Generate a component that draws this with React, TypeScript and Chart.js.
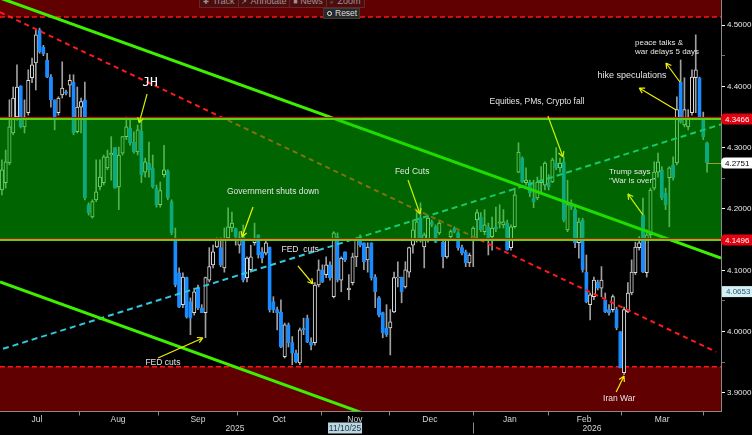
import React, { useEffect, useRef } from "react";
import { Chart, registerables } from "chart.js";

Chart.register(...registerables);

// ---------- DATA (daily candles, Jul 2025 - Mar 2026) ----------
const opens = [
  4.231, 4.243, 4.275, 4.324, 4.350, 4.401, 4.334, 4.357, 4.414, 4.438,
  4.492, 4.464, 4.443, 4.415, 4.378, 4.357, 4.386, 4.391, 4.402, 4.407,
  4.326, 4.366, 4.378, 4.207, 4.187, 4.215, 4.236, 4.243, 4.267, 4.288,
  4.300, 4.236, 4.291, 4.318, 4.332, 4.309, 4.293, 4.327, 4.260, 4.275,
  4.267, 4.234, 4.207, 4.256, 4.262, 4.212, 4.153, 4.096, 4.044, 4.088,
  4.049, 4.031, 4.071, 4.039, 4.031, 4.084, 4.109, 4.138, 4.137, 4.104,
  4.153, 4.169, 4.168, 4.141, 4.155, 4.088, 4.101, 4.145, 4.158, 4.130,
  4.128, 4.138, 4.049, 4.036, 4.032, 3.959, 4.011, 3.982, 3.965, 3.949,
  4.006, 4.022, 3.983, 3.982, 4.076, 4.101, 4.093, 4.109, 4.057, 4.155,
  4.084, 4.130, 4.068, 4.080, 4.122, 4.153, 4.145, 4.117, 4.145, 4.089,
  4.055, 4.031, 4.006, 4.006, 4.032, 4.088, 4.089, 4.073, 4.097, 4.141,
  4.150, 4.185, 4.138, 4.150, 4.179, 4.171, 4.161, 4.146, 4.122, 4.155,
  4.169, 4.161, 4.137, 4.130, 4.112, 4.150, 4.182, 4.187, 4.163, 4.171,
  4.155, 4.171, 4.177, 4.174, 4.177, 4.137, 4.171, 4.260, 4.283, 4.243,
  4.244, 4.218, 4.218, 4.243, 4.239, 4.243, 4.244, 4.275, 4.267, 4.277,
  4.166, 4.207, 4.199, 4.145, 4.182, 4.097, 4.044, 4.057, 4.081, 4.071,
  4.052, 4.036, 4.036, 4.036, 4.000, 3.933, 4.032, 4.063, 4.096, 4.137,
  4.190, 4.096, 4.158, 4.234, 4.260, 4.264, 4.226, 4.251, 4.272, 4.275,
  4.407, 4.337, 4.334, 4.357, 4.414, 4.414, 4.348, 4.308,
];
const highs = [
  4.280, 4.296, 4.378, 4.399, 4.435, 4.401, 4.378, 4.427, 4.446, 4.492,
  4.495, 4.467, 4.454, 4.419, 4.378, 4.383, 4.440, 4.394, 4.419, 4.419,
  4.399, 4.381, 4.407, 4.210, 4.215, 4.280, 4.280, 4.288, 4.296, 4.318,
  4.300, 4.301, 4.318, 4.350, 4.348, 4.326, 4.337, 4.348, 4.283, 4.309,
  4.288, 4.239, 4.244, 4.304, 4.264, 4.215, 4.169, 4.104, 4.096, 4.089,
  4.055, 4.071, 4.076, 4.044, 4.089, 4.137, 4.141, 4.153, 4.153, 4.169,
  4.202, 4.195, 4.169, 4.163, 4.174, 4.122, 4.141, 4.177, 4.158, 4.137,
  4.150, 4.138, 4.057, 4.040, 4.052, 4.014, 4.014, 3.992, 3.970, 4.006,
  4.022, 4.027, 3.990, 4.080, 4.117, 4.109, 4.122, 4.114, 4.163, 4.161,
  4.122, 4.130, 4.093, 4.128, 4.153, 4.158, 4.145, 4.145, 4.145, 4.093,
  4.057, 4.032, 4.044, 4.036, 4.097, 4.114, 4.089, 4.114, 4.138, 4.182,
  4.194, 4.210, 4.161, 4.187, 4.182, 4.174, 4.182, 4.150, 4.150, 4.166,
  4.171, 4.163, 4.141, 4.133, 4.128, 4.171, 4.199, 4.194, 4.199, 4.177,
  4.187, 4.203, 4.207, 4.199, 4.182, 4.174, 4.234, 4.308, 4.285, 4.267,
  4.247, 4.247, 4.252, 4.269, 4.277, 4.256, 4.283, 4.300, 4.283, 4.285,
  4.247, 4.215, 4.203, 4.185, 4.185, 4.125, 4.063, 4.089, 4.084, 4.106,
  4.063, 4.044, 4.060, 4.040, 4.000, 4.040, 4.080, 4.117, 4.146, 4.155,
  4.218, 4.166, 4.234, 4.277, 4.291, 4.269, 4.234, 4.269, 4.285, 4.383,
  4.443, 4.414, 4.362, 4.427, 4.484, 4.415, 4.358, 4.309,
];
const lows = [
  4.223, 4.234, 4.272, 4.321, 4.345, 4.332, 4.324, 4.353, 4.406, 4.394,
  4.454, 4.450, 4.414, 4.366, 4.329, 4.353, 4.381, 4.386, 4.383, 4.321,
  4.324, 4.324, 4.215, 4.190, 4.185, 4.212, 4.231, 4.239, 4.264, 4.247,
  4.234, 4.199, 4.288, 4.313, 4.304, 4.291, 4.288, 4.243, 4.252, 4.252,
  4.234, 4.203, 4.203, 4.252, 4.215, 4.158, 4.073, 4.039, 4.039, 4.022,
  3.995, 4.027, 4.036, 4.031, 3.990, 4.081, 4.104, 4.137, 4.106, 4.097,
  4.150, 4.163, 4.141, 4.128, 4.081, 4.081, 4.097, 4.141, 4.120, 4.112,
  4.125, 4.032, 4.031, 4.003, 3.974, 3.957, 3.975, 3.946, 3.949, 3.946,
  3.995, 3.982, 3.970, 3.978, 4.073, 4.080, 4.088, 4.084, 4.055, 4.081,
  4.065, 4.114, 4.052, 4.076, 4.106, 4.138, 4.101, 4.097, 4.084, 4.039,
  4.024, 3.990, 3.992, 3.962, 4.031, 4.073, 4.047, 4.071, 4.089, 4.128,
  4.146, 4.146, 4.104, 4.146, 4.171, 4.145, 4.158, 4.104, 4.120, 4.150,
  4.161, 4.133, 4.125, 4.106, 4.106, 4.106, 4.150, 4.163, 4.158, 4.125,
  4.133, 4.163, 4.169, 4.169, 4.133, 4.133, 4.169, 4.259, 4.243, 4.239,
  4.220, 4.202, 4.215, 4.226, 4.231, 4.231, 4.243, 4.264, 4.260, 4.179,
  4.163, 4.199, 4.137, 4.120, 4.097, 4.047, 4.019, 4.052, 4.068, 4.057,
  4.031, 4.027, 4.032, 4.003, 3.941, 3.930, 4.031, 4.060, 4.093, 4.133,
  4.096, 4.089, 4.153, 4.231, 4.252, 4.215, 4.199, 4.171, 4.247, 4.272,
  4.340, 4.334, 4.329, 4.353, 4.357, 4.348, 4.313, 4.260,
];
const closes = [
  4.264, 4.277, 4.334, 4.381, 4.399, 4.334, 4.350, 4.410, 4.435, 4.484,
  4.456, 4.453, 4.415, 4.378, 4.345, 4.381, 4.397, 4.389, 4.410, 4.324,
  4.366, 4.375, 4.218, 4.194, 4.212, 4.228, 4.252, 4.285, 4.285, 4.291,
  4.234, 4.288, 4.318, 4.334, 4.308, 4.293, 4.329, 4.256, 4.277, 4.264,
  4.236, 4.207, 4.230, 4.264, 4.218, 4.161, 4.076, 4.040, 4.089, 4.024,
  4.022, 4.065, 4.039, 4.031, 4.088, 4.106, 4.130, 4.150, 4.109, 4.150,
  4.171, 4.177, 4.155, 4.153, 4.084, 4.120, 4.122, 4.150, 4.125, 4.120,
  4.145, 4.036, 4.036, 4.031, 3.975, 4.011, 3.982, 3.965, 3.951, 4.003,
  4.003, 3.983, 3.978, 4.076, 4.101, 4.081, 4.109, 4.088, 4.161, 4.084,
  4.120, 4.117, 4.071, 4.122, 4.150, 4.141, 4.114, 4.138, 4.088, 4.065,
  4.027, 3.998, 3.995, 4.016, 4.088, 4.089, 4.065, 4.101, 4.137, 4.166,
  4.179, 4.150, 4.158, 4.185, 4.174, 4.146, 4.177, 4.122, 4.150, 4.163,
  4.163, 4.137, 4.128, 4.112, 4.125, 4.169, 4.194, 4.166, 4.174, 4.150,
  4.169, 4.168, 4.179, 4.179, 4.133, 4.171, 4.223, 4.293, 4.244, 4.247,
  4.226, 4.212, 4.244, 4.247, 4.275, 4.236, 4.280, 4.267, 4.275, 4.182,
  4.207, 4.203, 4.145, 4.179, 4.101, 4.049, 4.060, 4.084, 4.071, 4.084,
  4.032, 4.031, 4.057, 4.006, 3.941, 4.036, 4.063, 4.097, 4.138, 4.145,
  4.097, 4.158, 4.231, 4.260, 4.277, 4.218, 4.207, 4.267, 4.251, 4.362,
  4.342, 4.362, 4.350, 4.415, 4.427, 4.350, 4.318, 4.2751,
];

// axis labels
const monthLabels = ["Jul", "Aug", "Sep", "Oct", "Nov", "Dec", "Jan", "Feb", "Mar"];
const monthCenters = [9.3, 30.8, 52.0, 73.5, 93.6, 113.5, 134.7, 154.4, 175.1];
const monthStarts = [20.45, 41.4, 62.35, 84.6, 102.7, 124.9, 144.8, 164.2, 185.9];
const yearLabels = ["2025", "2026"];
const yearCenters = [61.8, 156.5];
const yearBreaks = [124.9];
const yTicks = [3.9, 3.95, 4.0, 4.05, 4.1, 4.15, 4.2, 4.25, 4.3, 4.35, 4.4, 4.45, 4.5];
const hoverDate = "11/10/25";
const hoverDateAt = 91.0;

// levels
const zoneHigh = 4.3466;
const zoneLow = 4.1496;
const redTopLevel = 4.5131;
const redBottomLevel = 3.9426;
const lastPrice = 4.2751;
const markerPrice = 4.0653;

// trend lines (index, price)
const upperTrend = [{ x: -0.5, y: 4.544 }, { x: 190.7, y: 4.12 }];
const lowerTrend = [{ x: -0.5, y: 4.081 }, { x: 97.6, y: 3.863 }];
const redTrend = [{ x: -0.5, y: 4.521 }, { x: 189.4, y: 3.967 }];
const cyanTrend = [{ x: 0.3, y: 3.972 }, { x: 190.7, y: 4.338 }];

// annotations (index, price)
const annotationLines = [
  ["JH"],
  ["Government shuts down"],
  ["Fed Cuts"],
  ["FED  cuts"],
  ["FED cuts"],
  ["Equities, PMs, Crypto fall"],
  ["hike speculations"],
  ["peace talks &", "war delays 5 days"],
  ["Trump says", "''War is over''"],
  ["Iran War"],
];
const annotationAt = [
  [39.3, 4.4055], [71.9, 4.2277], [108.8, 4.2604], [79.1, 4.1332], [42.7, 3.9489],
  [141.9, 4.3745], [167.1, 4.4169], [167.9, 4.4707], [161.0, 4.2604], [163.7, 3.8902],
];
const arrowFrom = [
  [38.5, 4.3875], [66.6, 4.2033], [107.7, 4.2473], [78.5, 4.1071], [41.4, 3.957],
  [144.8, 4.3517], [178.8, 4.3615], [179.8, 4.4071], [170.0, 4.1903], [162.9, 3.9017],
];
const arrowTo = [
  [36.4, 4.3403], [63.7, 4.1544], [110.9, 4.1919], [82.5, 4.0777], [53.3, 3.9897],
  [148.8, 4.2848], [169.0, 4.3973], [176.1, 4.4381], [166.0, 4.2245], [165.0, 3.9277],
];

// ---------- STYLE ----------
const X_MIN = -0.5;
const X_MAX = 190.7;
const Y_MIN = 3.8706;
const Y_MAX = 4.5408;
const FONT = '"Liberation Sans", Arial, sans-serif';
const annotationAlign: CanvasTextAlign[] = ["center", "center", "center", "center", "center", "center", "center", "left", "left", "center"];
const annotationFont = [
  '13px "DejaVu Sans Mono", monospace',
  `8.5px ${FONT}`, `8.5px ${FONT}`, `8.5px ${FONT}`, `8.5px ${FONT}`, `8.5px ${FONT}`,
  `9px ${FONT}`, `8px ${FONT}`, `8px ${FONT}`, `8.5px ${FONT}`,
];
const arrowColors = ["#c8f000", "#f0f000", "#c8f000", "#f0f000", "#f0f000", "#c8f000", "#f0f000", "#f0f000", "#c8f000", "#f0f000"];
const toolbarButtons = [
  { icon: "\u271A", label: "Track", w: 38 },
  { icon: "\u2197", label: "Annotate", w: 50 },
  { icon: "\u25A0", label: "News", w: 36 },
  { icon: "\u2315", label: "Zoom", w: 37 },
];

const isMajor = (v: number) => Math.abs(v * 10 - Math.round(v * 10)) < 1e-6;

function drawArrow(ctx: CanvasRenderingContext2D, x1: number, y1: number, x2: number, y2: number, color: string) {
  const ang = Math.atan2(y2 - y1, x2 - x1);
  const len = 6;
  ctx.strokeStyle = color;
  ctx.lineWidth = 1.2;
  ctx.setLineDash([]);
  ctx.beginPath();
  ctx.moveTo(x1, y1);
  ctx.lineTo(x2, y2);
  ctx.moveTo(x2, y2);
  ctx.lineTo(x2 - len * Math.cos(ang - 0.5), y2 - len * Math.sin(ang - 0.5));
  ctx.moveTo(x2, y2);
  ctx.lineTo(x2 - len * Math.cos(ang + 0.5), y2 - len * Math.sin(ang + 0.5));
  ctx.stroke();
}

function priceTag(ctx: CanvasRenderingContext2D, left: number, yp: number, text: string, bg: string, fg: string, rounded: boolean) {
  const h = 11;
  const w = 752 - left;
  ctx.fillStyle = bg;
  ctx.beginPath();
  if (rounded) {
    const r = 4;
    ctx.moveTo(left + r, yp - h / 2);
    ctx.lineTo(left + w, yp - h / 2);
    ctx.lineTo(left + w, yp + h / 2);
    ctx.lineTo(left + r, yp + h / 2);
    ctx.quadraticCurveTo(left, yp + h / 2, left, yp);
    ctx.quadraticCurveTo(left, yp - h / 2, left + r, yp - h / 2);
  } else {
    ctx.rect(left, yp - h / 2, w, h);
  }
  ctx.fill();
  ctx.fillStyle = fg;
  ctx.font = `8px ${FONT}`;
  ctx.textAlign = "left";
  ctx.textBaseline = "middle";
  ctx.fillText(text, left + 4, yp + 0.5);
}

const chartDecor = {
  id: "chartDecor",
  beforeDatasetsDraw(chart: any) {
    const { ctx, chartArea: a, scales } = chart;
    const y = scales.y;
    ctx.save();
    ctx.beginPath();
    ctx.rect(a.left, a.top, a.right - a.left, a.bottom - a.top);
    ctx.clip();
    const yt = y.getPixelForValue(redTopLevel);
    const yb = y.getPixelForValue(redBottomLevel);
    ctx.fillStyle = "#600000";
    ctx.fillRect(a.left, a.top, a.right - a.left, yt - a.top);
    ctx.fillRect(a.left, yb, a.right - a.left, a.bottom - yb);
    ctx.strokeStyle = "#ff1414";
    ctx.lineWidth = 1.5;
    ctx.setLineDash([5, 3]);
    ctx.beginPath();
    ctx.moveTo(a.left, yt);
    ctx.lineTo(a.right, yt);
    ctx.moveTo(a.left, yb);
    ctx.lineTo(a.right, yb);
    ctx.stroke();
    ctx.restore();
  },
  afterDatasetsDraw(chart: any) {
    const { ctx, chartArea: a, scales } = chart;
    const x = scales.x;
    const y = scales.y;
    ctx.save();
    ctx.beginPath();
    ctx.rect(a.left, a.top, a.right - a.left, a.bottom - a.top);
    ctx.clip();
    const zt = y.getPixelForValue(zoneHigh);
    const zb = y.getPixelForValue(zoneLow);
    ctx.fillStyle = "rgba(0,200,0,0.5)";
    ctx.fillRect(a.left, zt, a.right - a.left, zb - zt);
    ctx.setLineDash([]);
    for (const yy of [zt, zb]) {
      ctx.strokeStyle = "#c81010";
      ctx.lineWidth = 1;
      ctx.beginPath();
      ctx.moveTo(a.left, Math.round(yy) - 1.5);
      ctx.lineTo(a.right, Math.round(yy) - 1.5);
      ctx.stroke();
      ctx.strokeStyle = "#5cd214";
      ctx.lineWidth = 2;
      ctx.beginPath();
      ctx.moveTo(a.left, Math.round(yy));
      ctx.lineTo(a.right, Math.round(yy));
      ctx.stroke();
    }
    // last price line
    const ly = Math.round(y.getPixelForValue(lastPrice)) + 0.5;
    ctx.strokeStyle = "#a0a020";
    ctx.lineWidth = 1;
    ctx.beginPath();
    ctx.moveTo(x.getPixelForValue(closes.length - 1), ly);
    ctx.lineTo(a.right, ly);
    ctx.stroke();
    // annotations
    annotationLines.forEach((lines, i) => {
      const fx = x.getPixelForValue(arrowFrom[i][0]);
      const fy = y.getPixelForValue(arrowFrom[i][1]);
      const tx = x.getPixelForValue(arrowTo[i][0]);
      const ty = y.getPixelForValue(arrowTo[i][1]);
      drawArrow(ctx, fx, fy, tx, ty, arrowColors[i]);
      const px = x.getPixelForValue(annotationAt[i][0]);
      const py = y.getPixelForValue(annotationAt[i][1]);
      ctx.font = annotationFont[i];
      ctx.fillStyle = i === 0 ? "#ffffff" : "#e4e4e4";
      ctx.textAlign = annotationAlign[i];
      ctx.textBaseline = "middle";
      lines.forEach((t, k) => ctx.fillText(t, px, py + k * 8.5));
    });
    ctx.restore();
  },
  afterDraw(chart: any) {
    const { ctx, chartArea: a, scales } = chart;
    const x = scales.x;
    const y = scales.y;
    ctx.save();
    // x axis
    const b = Math.round(a.bottom) + 0.5;
    ctx.strokeStyle = "#8a8a8a";
    ctx.lineWidth = 1;
    ctx.setLineDash([]);
    ctx.beginPath();
    ctx.moveTo(0, b);
    ctx.lineTo(a.right + 1, b);
    monthStarts.forEach((v) => {
      const px = Math.round(x.getPixelForValue(v)) + 0.5;
      ctx.moveTo(px, b);
      ctx.lineTo(px, b + 4);
    });
    yearBreaks.forEach((v) => {
      const px = Math.round(x.getPixelForValue(v)) + 0.5;
      ctx.moveTo(px, b + 11);
      ctx.lineTo(px, b + 22);
    });
    ctx.stroke();
    ctx.fillStyle = "#d6d6d6";
    ctx.font = `8.5px ${FONT}`;
    ctx.textAlign = "center";
    ctx.textBaseline = "middle";
    monthLabels.forEach((m, i) => ctx.fillText(m, x.getPixelForValue(monthCenters[i]), b + 8.5));
    yearLabels.forEach((m, i) => ctx.fillText(m, x.getPixelForValue(yearCenters[i]), b + 17.5));
    // hover date box
    const hx = x.getPixelForValue(hoverDateAt);
    ctx.fillStyle = "#bcd6e2";
    ctx.fillRect(hx - 17, b + 11, 34, 11);
    ctx.fillStyle = "#1c3448";
    ctx.fillText(hoverDate, hx, b + 17);
    // price tags
    const left = Math.round(a.right);
    priceTag(ctx, left, y.getPixelForValue(zoneHigh), zoneHigh.toFixed(4), "#e40010", "#ffffff", true);
    priceTag(ctx, left, y.getPixelForValue(zoneLow), zoneLow.toFixed(4), "#e40010", "#ffffff", true);
    priceTag(ctx, left, y.getPixelForValue(lastPrice), lastPrice.toFixed(4), "#ffffff", "#000000", true);
    priceTag(ctx, left + 1, y.getPixelForValue(markerPrice), markerPrice.toFixed(4), "#d4f0f2", "#2a5878", false);
    ctx.restore();
  },
};

export default function App() {
  const canvasRef = useRef<HTMLCanvasElement | null>(null);

  useEffect(() => {
    if (!canvasRef.current) return;
    const idx = closes.map((_, i) => i);
    const up = idx.map((i) => closes[i] >= opens[i]);
    const chart = new Chart(canvasRef.current, {
      type: "bar",
      data: {
        datasets: [
          {
            type: "line",
            data: upperTrend,
            borderColor: "#3ef000",
            borderWidth: 3,
            pointRadius: 0,
            order: 1,
          } as any,
          {
            type: "line",
            data: lowerTrend,
            borderColor: "#3ef000",
            borderWidth: 3,
            pointRadius: 0,
            order: 2,
          } as any,
          {
            type: "line",
            data: redTrend,
            borderColor: "#ff1a1a",
            borderWidth: 2,
            borderDash: [5, 4],
            pointRadius: 0,
            order: 3,
          } as any,
          {
            type: "line",
            data: cyanTrend,
            borderColor: "#30c8dc",
            borderWidth: 2,
            borderDash: [6, 4],
            pointRadius: 0,
            order: 4,
          } as any,
          {
            type: "bar",
            data: idx.map((i) => ({ x: i, y: [opens[i], closes[i]] })),
            backgroundColor: idx.map((i) => (up[i] ? "#000000" : "#1a8cff")),
            borderColor: idx.map((i) => (up[i] ? "#dcdcdc" : "#1a8cff")),
            borderWidth: 1,
            borderSkipped: false,
            barThickness: 3.4,
            grouped: false,
            order: 9,
          } as any,
          {
            type: "bar",
            data: idx.map((i) => ({ x: i, y: [lows[i], highs[i]] })),
            backgroundColor: "#a0a0a0",
            borderWidth: 0,
            barThickness: 1,
            grouped: false,
            order: 10,
          } as any,
        ],
      },
      options: {
        responsive: false,
        animation: false,
        events: [],
        layout: { padding: { left: 0, right: 0, top: 0, bottom: 24 } },
        plugins: { legend: { display: false }, tooltip: { enabled: false } },
        scales: {
          x: {
            type: "linear",
            min: X_MIN,
            max: X_MAX,
            offset: false,
            display: false,
            grid: { offset: false },
            afterFit: (s: any) => {
              s.paddingLeft = 0;
              s.paddingRight = 0;
            },
          },
          y: {
            position: "right",
            min: Y_MIN,
            max: Y_MAX,
            afterBuildTicks: (s: any) => {
              s.ticks = yTicks.map((v) => ({ value: v }));
            },
            afterFit: (s: any) => {
              s.width = 31;
              s.paddingTop = 0;
              s.paddingBottom = 0;
            },
            ticks: {
              autoSkip: false,
              padding: 2,
              color: "#e8e8e8",
              font: { size: 8, family: FONT },
              callback: (v: any) => (isMajor(Number(v)) ? Number(v).toFixed(4) : ""),
            },
            grid: {
              drawOnChartArea: false,
              drawTicks: true,
              tickLength: 4,
              tickColor: (c: any) => (c.tick && isMajor(c.tick.value) ? "#ffffff" : "#707070"),
            },
            border: { display: true, color: "#8a8a8a", width: 1 },
          },
        },
      } as any,
      plugins: [chartDecor],
    });
    return () => chart.destroy();
  }, []);

  return (
    <div style={{ position: "relative", width: 752, height: 435, background: "#000", overflow: "hidden" }}>
      <style>{"html,body{margin:0;padding:0;background:#000;}"}</style>
      <canvas ref={canvasRef} width={752} height={435} style={{ position: "absolute", left: 0, top: 0, width: 752, height: 435 }} />
      <div
        style={{
          position: "absolute",
          left: 199,
          top: -6,
          height: 12,
          display: "flex",
          background: "#4a0e0e",
          border: "1px solid #6a2626",
          fontFamily: FONT,
          fontSize: 9,
          color: "#a89090",
        }}
      >
        {toolbarButtons.map((b, i) => (
          <div
            key={b.label}
            style={{
              width: b.w,
              height: 12,
              lineHeight: "12px",
              borderLeft: i ? "1px solid #6a2626" : "none",
              textAlign: "center",
              whiteSpace: "nowrap",
              overflow: "hidden",
            }}
          >
            <span style={{ fontSize: 7, marginRight: 3 }}>{b.icon}</span>
            {b.label}
          </div>
        ))}
      </div>
      <div
        style={{
          position: "absolute",
          left: 323,
          top: 8,
          width: 37,
          height: 11,
          background: "#282828",
          border: "1px solid #3c3c3c",
          boxSizing: "border-box",
          fontFamily: FONT,
          fontSize: 8.5,
          lineHeight: "9px",
          color: "#d8d8d8",
          display: "flex",
          alignItems: "center",
          gap: 3,
          paddingLeft: 3,
        }}
      >
        <span
          style={{
            display: "inline-block",
            width: 3,
            height: 3,
            border: "1.5px solid #f0f0f0",
            borderRadius: "50%",
          }}
        />
        Reset
      </div>
    </div>
  );
}
